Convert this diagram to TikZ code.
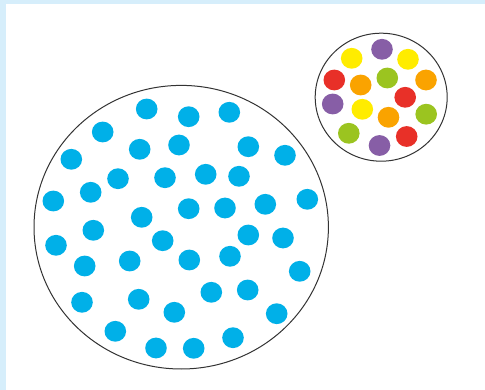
\documentclass[tikz,border=0pt]{standalone}
\usepackage{tikz}
\usetikzlibrary{shapes.geometric}
\definecolor{framebg}{RGB}{214,238,251}
\definecolor{dotblue}{RGB}{0,176,232}
\definecolor{dotyellow}{RGB}{255,236,0}
\definecolor{dotpurple}{RGB}{135,94,166}
\definecolor{dotred}{RGB}{232,48,40}
\definecolor{dotorange}{RGB}{250,163,0}
\definecolor{dotgreen}{RGB}{155,196,32}

\begin{document}
\begin{tikzpicture}[
  x=1pt, y=-1pt,
  jar/.style={
    ellipse, draw=black!80, line width=1pt, fill=white,
    inner sep=0pt
  },
  dot/.style={
    ellipse, inner sep=0pt,
    minimum width=21.6pt, minimum height=20.8pt
  }
]

% ── Frame ──
\fill[framebg] (0,0) rectangle (485,390);
\fill[white] (6,4) rectangle (485,390);
\useasboundingbox (0,0) rectangle (485,390);

% ── Big jar (one colour) ──
\node[jar, minimum width=294.4pt, minimum height=283.6pt] (bigjar) at (181.2,227.2) {};

\foreach \px/\py [count=\i] in {
  146.7/109, 188.7/116.7, 229.3/112.3, 102.7/132, 139.7/149.3,
  179/145, 248.3/146.7, 285/155.3, 71.3/159.3, 118/178.7,
  165/177.7, 205.7/174.3, 239/176.3, 53.3/201, 90.7/192.3,
  188.7/208.7, 225/208, 265.3/204.3, 307.3/199.3, 141.7/217.3,
  93.3/230.3, 56/245.3, 162.7/240.7, 248.3/235, 283/238,
  129.7/261, 189.3/260, 230/256.3, 84.7/266, 299.7/271.3,
  82/302.3, 138.7/299.3, 211.3/292.3, 247.7/290, 174.3/312.3,
  276.7/313.7, 115.3/331.3, 156/348, 193.7/348.3, 233/337.7}
  \node[dot, fill=dotblue] (blue\i) at (\px,\py) {};

% ── Small jar (mixed colours) ──
\node[jar, minimum width=132pt, minimum height=128pt] (smalljar) at (381.2,97.2) {};

\foreach \px/\py/\col [count=\i] in {
  351.7/58.3/dotyellow, 382/49.3/dotpurple, 408/59.3/dotyellow,
  334.3/80/dotred, 360.7/85/dotorange, 387.3/78/dotgreen,
  426/80/dotorange, 405.2/97.3/dotred, 332.7/104/dotpurple,
  362.3/109.3/dotyellow, 388.5/117.3/dotorange, 426.2/114.2/dotgreen,
  348.8/133.3/dotgreen, 379.5/145.5/dotpurple, 406.7/136.5/dotred}
  \node[dot, fill=\col] (mix\i) at (\px,\py) {};

\end{tikzpicture}
\end{document}
